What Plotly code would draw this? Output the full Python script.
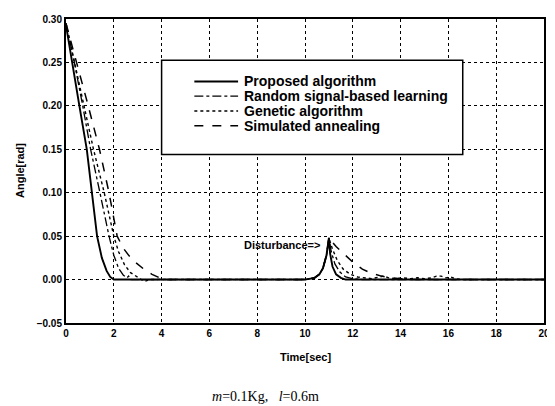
import plotly.graph_objects as go

# ---- data ----
prop_t = [0, 0.25, 0.56, 0.87, 1.07, 1.3, 1.5, 1.7, 1.85, 2.0, 10.0, 10.4, 10.6, 10.75, 10.9, 11.0,
          11.05, 11.15, 11.3, 11.5, 11.7, 20]
prop_y = [0.293, 0.25, 0.20, 0.15, 0.10, 0.05, 0.025, 0.01, 0.003, 0.0, 0.0, 0.002, 0.006, 0.013, 0.028, 0.048,
          0.03, 0.015, 0.006, 0.002, 0.0, 0.0]

rand_t = [0, 0.35, 0.7, 1.03, 1.42, 1.8, 2.0, 2.2, 2.4, 2.55, 2.62, 2.7, 10.0, 10.4, 10.6, 10.75, 10.9, 11.0,
          11.1, 11.25, 11.45, 11.7, 12.0, 12.4, 20]
rand_y = [0.295, 0.25, 0.20, 0.15, 0.10, 0.05, 0.028, 0.013, 0.005, 0.002, 0.004, 0.0, 0.0, 0.002, 0.006, 0.013,
          0.028, 0.048, 0.032, 0.018, 0.009, 0.003, 0.001, 0.0, 0.0]

gen_t = [0, 0.36, 0.75, 1.15, 1.6, 2.0, 2.2, 2.45, 2.7, 2.95, 3.15, 3.3, 3.5, 10.0, 10.4, 10.6, 10.75, 10.9, 11.0,
         11.15, 11.35, 11.6, 11.9, 12.2, 12.5, 12.8, 13.1, 13.3, 13.5, 13.8, 14.1, 14.4, 14.7, 15.0, 15.3, 15.5,
         15.7, 15.9, 16.1, 16.3, 16.6, 20]
gen_y = [0.295, 0.25, 0.20, 0.15, 0.10, 0.05, 0.032, 0.017, 0.008, 0.003, 0.0, -0.002, 0.0, 0.0, 0.002, 0.006, 0.013,
         0.028, 0.048, 0.035, 0.022, 0.012, 0.006, 0.003, 0.002, 0.001, 0.003, 0.004, 0.002, 0.001, 0.002, 0.001,
         0.002, 0.001, 0.002, 0.004, 0.004, 0.002, 0.003, 0.001, 0.0, 0.0]

sa_t = [0, 0.45, 0.93, 1.4, 1.8, 2.14, 2.4, 2.65, 2.9, 3.3, 3.6, 4.0, 4.3, 10.0, 10.4, 10.6, 10.75, 10.9, 11.0,
        11.3, 11.6, 12.0, 12.4, 12.8, 13.2, 13.6, 14.0, 14.5, 20]
sa_y = [0.295, 0.25, 0.20, 0.15, 0.10, 0.05, 0.036, 0.027, 0.02, 0.011, 0.006, 0.001, 0.0, 0.0, 0.002, 0.006, 0.013,
        0.028, 0.048, 0.038, 0.03, 0.02, 0.012, 0.007, 0.004, 0.002, 0.001, 0.0, 0.0]

series = [
    ("Proposed algorithm", prop_t, prop_y, "solid", 1.9),
    ("Random signal-based learning", rand_t, rand_y, "dashdot", 1.3),
    ("Genetic algorithm", gen_t, gen_y, "dot", 1.4),
    ("Simulated annealing", sa_t, sa_y, "dash", 1.5),
]

x_ticks = [0, 2, 4, 6, 8, 10, 12, 14, 16, 18, 20]
y_ticks = [-0.05, 0.0, 0.05, 0.10, 0.15, 0.20, 0.25, 0.30]

fig = go.Figure()
for name, t, y, dash, w in series:
    fig.add_trace(go.Scatter(x=t, y=y, mode="lines", name=name, showlegend=False,
                             line=dict(color="black", dash=dash, width=w)))

axis_font = dict(family="Liberation Sans, Arial", size=10, color="black")
fig.update_xaxes(range=[0, 20], tickvals=x_ticks, showgrid=True, gridcolor="black", griddash="dot",
                 gridwidth=1, showline=True, linecolor="black", linewidth=2, mirror=True,
                 zeroline=False, ticks="", tickfont=dict(axis_font, weight="bold"))
fig.update_yaxes(range=[-0.05, 0.30], tickvals=y_ticks, tickformat=".2f", showgrid=True, gridcolor="black",
                 griddash="dot", gridwidth=1, showline=True, linecolor="black", linewidth=2, mirror=True,
                 zeroline=False, ticks="", tickfont=dict(axis_font, weight="bold"))

# legend box (manual)
shapes = [dict(type="rect", xref="x", yref="y", x0=4.0, x1=16.6, y0=0.144, y1=0.2525,
               line=dict(color="black", width=1.5), fillcolor="white", layer="above")]
annotations = []
leg_y = [0.2281, 0.2111, 0.1941, 0.1771]
for (name, t, y, dash, w), ly in zip(series, leg_y):
    shapes.append(dict(type="line", xref="x", yref="y", x0=5.37, x1=7.2, y0=ly, y1=ly,
                       line=dict(color="black", dash=dash, width=w), layer="above"))
    annotations.append(dict(x=7.36, y=ly, xref="x", yref="y", text=name, showarrow=False, xanchor="left",
                            yanchor="middle",
                            font=dict(family="Liberation Sans, Arial", size=14, color="black", weight="bold")))

annotations.append(dict(x=10.72, y=0.040, xref="x", yref="y", text="Disturbance=>", showarrow=False,
                        xanchor="right", yanchor="middle",
                        font=dict(family="Liberation Sans, Arial", size=11, color="black", weight="bold")))
annotations.append(dict(x=0.5, y=0, xref="paper", yref="paper", yshift=-34, text="Time[sec]", showarrow=False,
                        xanchor="center", yanchor="middle",
                        font=dict(family="Liberation Sans, Arial", size=11, color="black", weight="bold")))
annotations.append(dict(x=0, y=0.5, xref="paper", yref="paper", xshift=-46, text="Angle[rad]", showarrow=False,
                        textangle=-90, xanchor="center", yanchor="middle",
                        font=dict(family="Liberation Sans, Arial", size=11, color="black", weight="bold")))
annotations.append(dict(x=0.418, y=0, xref="paper", yref="paper", yshift=-73,
                        text="<i>m</i>=0.1Kg,   <i>l</i>=0.6m", showarrow=False,
                        xanchor="center", yanchor="middle",
                        font=dict(family="Liberation Serif, Times New Roman", size=14, color="black")))

# page body has an ~8px default margin, so the figure is sized to fit inside the window
fig.update_layout(width=547, height=398, margin=dict(l=58, r=5, t=6, b=83),
                  plot_bgcolor="white", paper_bgcolor="white", showlegend=False,
                  shapes=shapes, annotations=annotations)

fig.write_html("out.html")
